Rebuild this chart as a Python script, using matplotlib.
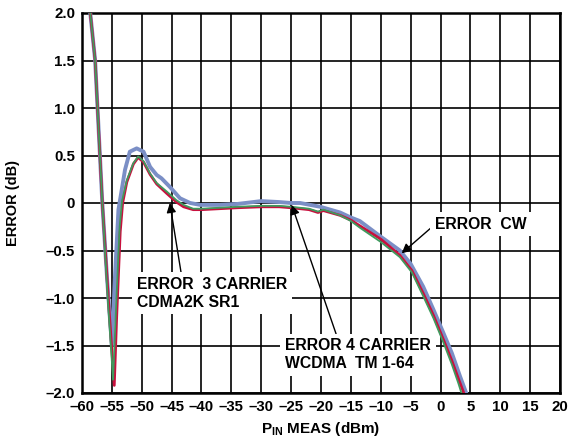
import numpy as np
import matplotlib
matplotlib.use("Agg")
import matplotlib.pyplot as plt

plt.rcParams['font.family'] = ['Liberation Sans', 'DejaVu Sans']
plt.rcParams['font.weight'] = 'bold'
plt.rcParams['mathtext.fontset'] = 'custom'
plt.rcParams['mathtext.bf'] = 'Liberation Sans:bold'
plt.rcParams['mathtext.rm'] = 'Liberation Sans:bold'

# Curvas de error (dB) contra potencia de entrada medida (dBm)
x_3car = [-58.7, -57.8, -57.4, -57.0, -56.6, -55.6, -54.6, -54.2, -53.6, -53.2,
          -52.5, -51.4, -50.6, -49.7, -48.6, -47.5, -45.8, -44.2, -43.0, -41.4,
          -40.0, -37.0, -34.0, -30.0, -27.0, -25.0, -22.0, -20.5, -19.6, -16.8,
          -15.0, -13.5, -10.0, -6.8, -4.8, -2.9, -1.2, 0.5, 1.9, 3.0, 3.9, 4.1]
y_3car = [2.05, 1.5, 1.0, 0.5, 0.0, -1.0, -1.92, -1.2, -0.3, 0.0,
          0.22, 0.41, 0.48, 0.43, 0.30, 0.20, 0.10, 0.01, -0.04, -0.07,
          -0.07, -0.06, -0.05, -0.04, -0.04, -0.05, -0.07, -0.10, -0.08, -0.13,
          -0.18, -0.24, -0.38, -0.55, -0.71, -0.95, -1.18, -1.44, -1.66, -1.85, -2.0, -2.05]

x_4car = [-58.7, -57.8, -57.4, -57.0, -56.6, -55.7, -54.8, -54.3, -53.7, -53.3,
          -52.5, -51.4, -50.6, -49.7, -48.6, -47.5, -45.8, -44.2, -43.0, -41.4,
          -40.0, -37.0, -34.0, -30.0, -27.0, -25.0, -22.0, -20.5, -19.6, -16.8,
          -15.0, -13.5, -10.0, -6.8, -4.8, -2.9, -1.2, 0.5, 1.9, 3.0, 3.5, 3.7]
y_4car = [2.05, 1.5, 1.0, 0.5, 0.0, -1.0, -1.86, -1.1, -0.25, 0.02,
          0.24, 0.42, 0.49, 0.44, 0.31, 0.21, 0.12, 0.03, -0.02, -0.06,
          -0.06, -0.05, -0.04, -0.03, -0.03, -0.04, -0.06, -0.09, -0.07, -0.13,
          -0.19, -0.26, -0.41, -0.57, -0.73, -0.98, -1.21, -1.47, -1.70, -1.90, -2.0, -2.05]

x_cw = [-58.7, -57.8, -57.4, -57.0, -56.6, -55.8, -55.0, -54.5, -53.9, -52.8,
        -52.0, -50.85, -49.7, -48.6, -47.5, -46.7, -45.3, -43.6, -41.9, -40.2,
        -37.0, -34.0, -30.0, -27.0, -25.0, -23.5, -20.1, -16.8, -15.1, -13.5,
        -10.1, -6.8, -5.0, -2.9, -1.2, 0.5, 1.9, 3.3, 4.3, 4.5]
y_cw = [2.05, 1.5, 1.0, 0.5, 0.0, -0.8, -1.5, -0.8, -0.07, 0.35,
        0.54, 0.575, 0.54, 0.38, 0.295, 0.26, 0.17, 0.05, 0.0, -0.02,
        -0.02, -0.01, 0.02, 0.01, 0.0, 0.0, -0.04, -0.10, -0.15, -0.19,
        -0.35, -0.50, -0.64, -0.88, -1.12, -1.37, -1.58, -1.83, -2.0, -2.05]

xticks = list(range(-60, 25, 5))
xticklabels = [str(v).replace('-', '\u2013') for v in xticks]
yticks = [-2.0, -1.5, -1.0, -0.5, 0, 0.5, 1.0, 1.5, 2.0]
yticklabels = ['\u20132.0', '\u20131.5', '\u20131.0', '\u20130.5', '0', '0.5', '1.0', '1.5', '2.0']

fig = plt.figure(figsize=(5.78, 4.46), dpi=100)
ax = fig.add_axes([82/578, 1 - 393/446, 478/578, 380/446])

ax.plot(x_cw, y_cw, color='#7b8fc6', lw=2.8, zorder=3)
ax.plot(x_3car, y_3car, color='#c8103e', lw=2.0, zorder=4)
ax.plot(x_4car, y_4car, color='#3f9a5e', lw=1.3, zorder=5)

ax.set_xlim(-60, 20)
ax.set_ylim(-2, 2)
ax.set_xticks(xticks)
ax.set_xticklabels(xticklabels)
ax.set_yticks(yticks)
ax.set_yticklabels(yticklabels)
ax.tick_params(length=0, labelsize=10.8, pad=5)
ax.grid(True, color='black', lw=1.2, zorder=1)
for s in ax.spines.values():
    s.set_linewidth(1.8)

ax.set_xlabel('P$_{\\mathbf{IN}}$ MEAS (dBm)', fontsize=11, fontweight='bold', labelpad=4)
ax.set_ylabel('ERROR (dB)', fontsize=10.5, fontweight='bold')
ax.yaxis.set_label_coords(-0.13, 0.5)

caja = dict(boxstyle='square,pad=0.3', fc='white', ec='none')
ax.annotate('ERROR  3 CARRIER\nCDMA2K SR1', xy=(-45.3, 0.0), xytext=(-50.85, -0.95),
            ha='left', va='center', fontsize=11.3, fontweight='bold', linespacing=1.25,
            bbox=caja, zorder=6,
            arrowprops=dict(arrowstyle='-|>', color='black', lw=1, mutation_scale=14,
                            relpos=(0.3, 1.0), shrinkA=0, shrinkB=0))
ax.annotate('ERROR 4 CARRIER\nWCDMA  TM 1-64', xy=(-24.9, -0.02), xytext=(-26.0, -1.6),
            ha='left', va='center', fontsize=11.3, fontweight='bold', linespacing=1.25,
            bbox=caja, zorder=6,
            arrowprops=dict(arrowstyle='-|>', color='black', lw=1, mutation_scale=14,
                            relpos=(0.36, 1.0), shrinkA=0, shrinkB=0))
ax.annotate('ERROR  CW', xy=(-6.5, -0.53), xytext=(-0.9, -0.224),
            ha='left', va='center', fontsize=11.3, fontweight='bold',
            bbox=caja, zorder=6,
            arrowprops=dict(arrowstyle='-|>', color='black', lw=1, mutation_scale=14,
                            relpos=(0.0, 0.5), shrinkA=0, shrinkB=0))

fig.savefig('out.png', dpi=100)
